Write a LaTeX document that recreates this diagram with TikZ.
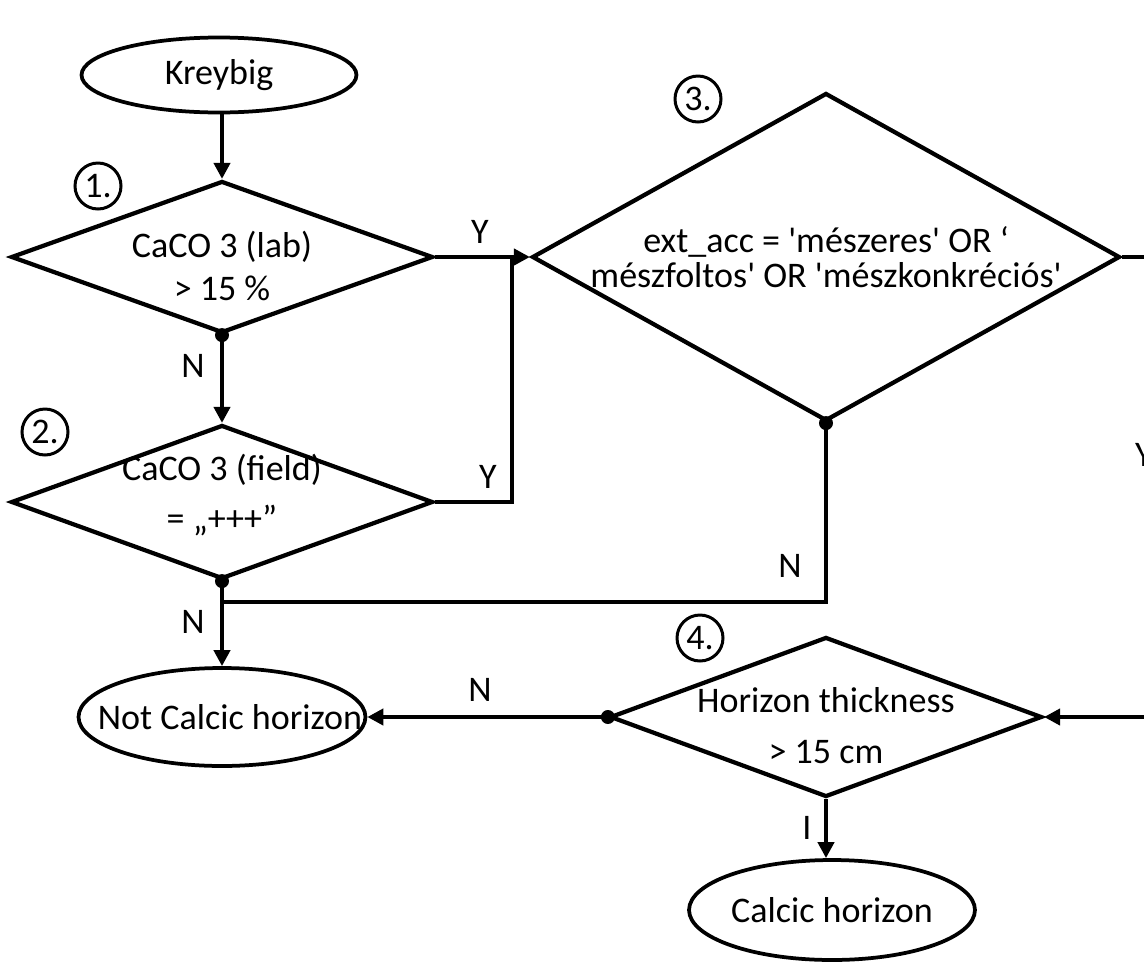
\documentclass[tikz,border=0pt]{standalone}
\usepackage{fontspec}
\newfontfamily\carl{Carlito}
\usetikzlibrary{shapes.geometric,arrows.meta}
\begin{document}
\begin{tikzpicture}[x=0.02cm,y=-0.02cm,
  every node/.style={font=\carl\fontsize{20.5pt}{25pt}\selectfont, inner sep=0pt},
  term/.style={draw, ellipse, line width=0.075cm},
  decision/.style={draw, diamond, line width=0.085cm},
  txt/.style={align=center},
  num/.style={draw, circle, line width=0.06cm, minimum size=0.92cm},
  conn/.style={line width=0.085cm},
  arr/.style={conn, -{Triangle[length=0.32cm,width=0.32cm]}},
  dot/.style={fill=black},
]
\useasboundingbox (0,0) rectangle (1144,964);

% terminals (shape) and their texts
\node[term, minimum width=5.5cm, minimum height=1.5cm] (K) at (219,75) {};
\node[txt] (Kt) at (K.center) {Kreybig};
\node[term, minimum width=5.74cm, minimum height=1.96cm] (NC) at (222,717) {};
\node[txt] (NCt) at (230,717) {Not Calcic horizon};
\node[term, minimum width=5.72cm, minimum height=2.0cm] (CH) at (832,910) {};
\node[txt] (CHt) at (CH.center) {Calcic horizon};

% decisions (shape) and their texts
\node[decision, minimum width=8.44cm, minimum height=3.04cm] (D1) at (222,257) {};
\node[txt] (D1t) at (222,266) {CaCO 3 (lab)\\ {>} 15 \%};
\node[decision, minimum width=8.44cm, minimum height=3.08cm] (D2) at (222,502) {};
\node[txt, font=\carl\fontsize{20.5pt}{29pt}\selectfont] (D2t) at (222,495) {CaCO 3 (field)\\ = „+++”};
\node[decision, minimum width=11.76cm, minimum height=6.56cm] (D3) at (826,257) {};
\node[txt, font=\carl\fontsize{20.5pt}{20pt}\selectfont] (D3t) at (D3.center) {ext\_acc = 'mészeres' OR ‘\\ mészfoltos' OR 'mészkonkréciós'};
\node[decision, minimum width=8.64cm, minimum height=3.2cm] (D4) at (826,717) {};
\node[txt, font=\carl\fontsize{20.5pt}{29pt}\selectfont] (D4t) at (826,726) {Horizon thickness\\ {>} 15 cm};

% numbers
\node[num] (c1) at (98,186) {1.};
\node[num] (c2) at (45,432) {2.};
\node[num] (c3) at (698,99) {3.};
\node[num] (c4) at (700,638) {4.};

% junction coordinates
\coordinate (j1) at (512,257);
\coordinate (j2) at (222,602);
\coordinate (r1) at (1170,257);
\coordinate (r2) at (1170,717);

% connectors
\draw[arr] (D1.north |- K.south) -- (D1.north);
\draw[arr] (D1.east) -- (D3.west);
\draw[arr] (D1.south) -- (D2.north);
\draw[conn] (D2.east) -| (j1);
\draw[arr] (D2.south) -- (NC.north);
\draw[conn] (D3.south) |- (j2);
\draw[arr] (D4.west) -- (NC.east);
\draw[arr] (D4.south) -- (D4.south |- CH.north);
\draw[arr] (D3.east) -- (r1) -- (r2) -- (D4.east);

% dots
\fill[dot] (D1.south) circle (0.14cm);
\fill[dot] (D2.south) circle (0.14cm);
\fill[dot] (D3.south) circle (0.14cm);
\fill[dot] (D4.west) circle (0.14cm);

% labels
\node (lY1) at (480,232) {Y};
\node (lN1) at (193,366) {N};
\node (lY2) at (488,477) {Y};
\node (lN2) at (193,622) {N};
\node (lN3) at (790,566) {N};
\node (lN4) at (480,690) {N};
\node (lY3) at (1144,455) {Y};
\node (lI) at (807,828) {I};
\end{tikzpicture}
\end{document}
